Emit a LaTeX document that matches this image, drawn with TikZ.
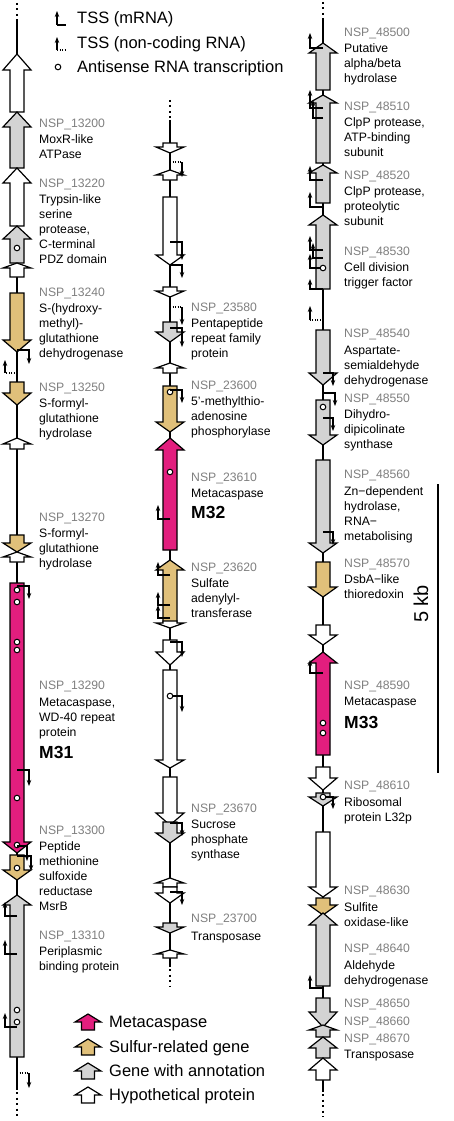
\documentclass[tikz,border=0pt]{standalone}
\usepackage{fontspec}
\setmainfont{Liberation Sans}
\usetikzlibrary{arrows.meta}
\definecolor{magen}{RGB}{226,30,126}
\definecolor{tang}{RGB}{224,192,122}
\definecolor{gfill}{RGB}{211,211,211}
\definecolor{idgray}{RGB}{128,128,128}
\tikzset{
  gene/.style={draw=black,line width=1.2pt,line join=miter},
  axisline/.style={line width=1.5pt},
  dotaxis/.style={line width=1.5pt,dash pattern=on 2pt off 3.5pt},
  tss/.style={line width=1.1pt,-{Stealth[length=6pt,width=4.5pt]}},
  ncdot/.style={line width=1.1pt,dash pattern=on 1pt off 1.5pt},
  circ/.style={draw=black,fill=white,line width=1pt},
  lab/.style={anchor=north west,inner sep=0pt,align=left,font=\fontsize{12.2}{15}\selectfont},
  mlab/.style={anchor=west,inner sep=0pt,font=\fontsize{17.5}{17.5}\selectfont\bfseries},
  legtext/.style={anchor=base west,inner sep=0pt,font=\fontsize{16.5}{16.5}\selectfont},
}
\newcommand{\GeneUp}[5]{\draw[gene,fill=#1] (#2,#3) -- (#2+14,#4) -- (#2+7,#4) -- (#2+7,#5) -- (#2-7,#5) -- (#2-7,#4) -- (#2-14,#4) -- cycle;}
\newcommand{\GeneDn}[5]{\draw[gene,fill=#1] (#2-7,#3) -- (#2+7,#3) -- (#2+7,#4) -- (#2+14,#4) -- (#2,#5) -- (#2-14,#4) -- (#2-7,#4) -- cycle;}
\newcommand{\Tss}[4]{\draw[tss] (#1,#2) -- (#3,#2) -- (#3,#4);}
\newcommand{\NcTss}[4]{\draw[ncdot] (#1,#2) -- (#3,#2); \draw[tss] (#3,#2) -- (#3,#4);}
\newcommand{\Circ}[2]{\draw[circ] (#1,#2) circle[radius=2.8pt];}
\newcommand{\Glab}[5]{\node[lab] (#1) at (#2,#3-4.3) {\textcolor{idgray}{#4}#5};}
\begin{document}
\begin{tikzpicture}[x=1pt,y=-1pt]
\useasboundingbox (0,0) rectangle (454,1121);
\fill[white] (0,0) rectangle (454,1121);

% ---------------- top legend
\draw[tss] (57,25) -- (57,11);
\draw[line width=1.1pt] (57,25) -- (66,25);
\node[legtext] (lg1) at (77,24) {TSS (mRNA)};
\draw[tss] (57,50) -- (57,37);
\draw[ncdot] (57,50) -- (66,50);
\node[legtext] (lg2) at (77,48.5) {TSS (non-coding RNA)};
\Circ{58}{67}
\node[legtext] (lg3) at (77,72.5) {Antisense RNA transcription};

% ---------------- column 1 (x = 17)
\draw[dotaxis] (17,3) -- (17,20);
\draw[axisline] (17,20) -- (17,1090);
\draw[dotaxis] (17,1092) -- (17,1117);
\GeneUp{white}{17}{54}{70}{112}
\GeneUp{gfill}{17}{112}{127}{168}
\GeneUp{white}{17}{168}{183}{226}
\GeneUp{gfill}{17}{226}{239}{263}
\Circ{17}{248}
\GeneUp{white}{17}{263}{268}{277}
\GeneDn{tang}{17}{293}{340}{352}
\Tss{17}{350}{29}{364}
\NcTss{17}{373}{5}{360}
\GeneDn{tang}{17}{382}{393}{405}
\GeneUp{white}{17}{438}{444}{449}
\GeneDn{tang}{17}{535}{543}{552}
\GeneUp{white}{17}{552}{557}{562}
\GeneDn{magen}{17}{583}{842}{853}
\Circ{17}{590}\Circ{17}{602}\Circ{17}{642}\Circ{17}{650}\Circ{17}{798}\Circ{17}{845}
\Tss{17}{586}{29}{599}
\Tss{17}{770}{29}{786}
\GeneDn{tang}{17}{855}{870}{880}
\Circ{17}{868}
\Tss{17}{846}{27}{861}
\Tss{17}{856}{31}{871}
\GeneUp{gfill}{17}{895}{905}{1057}
\Tss{17}{916}{5}{902}
\Tss{17}{954}{5}{940}
\Tss{17}{1027}{5}{1013}
\Circ{17}{1010}\Circ{17}{1022}
\NcTss{17}{1073}{29}{1088}

\Glab{l13200}{39}{123}{NSP\_13200}{\\[1pt]MoxR-like\\ATPase}
\Glab{l13220}{39}{183}{NSP\_13220}{\\[1pt]Trypsin-like\\serine\\protease,\\C-terminal\\PDZ domain}
\Glab{l13240}{39}{292}{NSP\_13240}{\\[1pt]S-(hydroxy-\\methyl)-\\glutathione\\dehydrogenase}
\Glab{l13250}{39}{387}{NSP\_13250}{\\[1pt]S-formyl-\\glutathione\\hydrolase}
\Glab{l13270}{39}{517}{NSP\_13270}{\\[1pt]S-formyl-\\glutathione\\hydrolase}
\Glab{l13290}{39}{685}{NSP\_13290}{\\[2pt]Metacaspase,\\WD-40 repeat\\protein}
\node[mlab] (m31) at (39,752) {M31};
\Glab{l13300}{39}{830}{NSP\_13300}{\\[1pt]Peptide\\methionine\\sulfoxide\\reductase\\MsrB}
\Glab{l13310}{39}{935}{NSP\_13310}{\\[1pt]Periplasmic\\binding protein}

% ---------------- column 2 (x = 170)
\draw[dotaxis] (170,100) -- (170,120);
\draw[axisline] (170,120) -- (170,967);
\draw[dotaxis] (170,969) -- (170,986);
\GeneDn{white}{170}{143}{147}{153}
\NcTss{170}{162}{182}{177}
\GeneUp{white}{170}{170}{175}{180}
\GeneDn{white}{170}{197}{255}{265}
\Tss{170}{242}{182}{260}
\Tss{170}{265}{182}{278}
\GeneDn{white}{170}{287}{291}{297}
\NcTss{170}{307}{182}{325}
\GeneDn{gfill}{170}{322}{332}{342}
\Tss{170}{328}{182}{347}
\GeneUp{white}{170}{363}{368}{373}
\GeneDn{tang}{170}{386}{422}{432}
\Circ{170}{392}
\Tss{170}{390}{182}{403}
\GeneUp{magen}{170}{438}{450}{550}
\Circ{170}{472}
\Tss{170}{519}{158}{505}
\GeneUp{tang}{170}{560}{570}{622}
\Tss{170}{575}{158}{562}
\Tss{170}{605}{158}{592}
\Tss{170}{618}{158}{605}
\GeneDn{white}{170}{621}{623}{628}
\GeneDn{white}{170}{640}{652}{665}
\Tss{170}{642}{182}{657}
\GeneDn{white}{170}{670}{760}{768}
\Circ{170}{696}
\Tss{173}{696}{182}{712}
\GeneDn{white}{170}{777}{813}{825}
\GeneDn{gfill}{170}{822}{833}{843}
\Tss{170}{823}{182}{836}
\GeneUp{white}{170}{878}{883}{887}
\GeneDn{white}{170}{887}{893}{903}
\Tss{170}{892}{182}{905}
\GeneDn{gfill}{170}{923}{927}{933}
\GeneUp{white}{170}{950}{954}{958}

\Glab{l23580}{191}{307}{NSP\_23580}{\\[1pt]Pentapeptide\\repeat family\\protein}
\Glab{l23600}{191}{385}{NSP\_23600}{\\[1pt]5'-methylthio-\\adenosine\\phosphorylase}
\Glab{l23610}{191}{477}{NSP\_23610}{\\[1pt]Metacaspase}
\node[mlab] (m32) at (191,512) {M32};
\Glab{l23620}{191}{567}{NSP\_23620}{\\[1pt]Sulfate\\adenylyl-\\transferase}
\Glab{l23670}{191}{808}{NSP\_23670}{\\[1pt]Sucrose\\phosphate\\synthase}
\Glab{l23700}{191}{918}{NSP\_23700}{\\[3pt]Transposase}

% ---------------- column 3 (x = 323)
\draw[dotaxis] (323,2) -- (323,20);
\draw[axisline] (323,20) -- (323,1092);
\draw[dotaxis] (323,1094) -- (323,1117);
\GeneUp{gfill}{323}{43}{53}{90}
\Tss{323}{48}{310}{33}
\GeneUp{gfill}{323}{95}{103}{163}
\Tss{323}{108}{310}{90}
\Tss{323}{118}{313}{100}
\GeneUp{gfill}{323}{165}{173}{203}
\Tss{323}{180}{310}{166}
\Tss{323}{207}{310}{192}
\GeneUp{gfill}{323}{215}{225}{289}
\Tss{323}{250}{310}{236}
\Tss{323}{258}{313}{243}
\Circ{323}{268}
\Tss{320}{268}{310}{254}
\Tss{323}{289}{310}{279}
\NcTss{323}{320}{310}{306}
\GeneDn{gfill}{323}{330}{373}{385}
\Tss{323}{373}{333}{386}
\GeneDn{gfill}{323}{400}{435}{445}
\Circ{323}{407}
\Tss{323}{393}{335}{406}
\Tss{323}{418}{333}{431}
\GeneDn{gfill}{323}{460}{543}{553}
\Tss{323}{532}{333}{545}
\GeneDn{tang}{323}{562}{587}{597}
\GeneDn{white}{323}{625}{635}{645}
\GeneUp{magen}{323}{652}{663}{755}
\Tss{323}{673}{310}{660}
\Circ{323}{723}\Circ{323}{733}
\GeneDn{white}{323}{767}{778}{790}
\GeneDn{gfill}{323}{793}{797}{806}
\Circ{323}{797}
\Tss{326}{797}{333}{809}
\GeneDn{white}{323}{832}{887}{897}
\GeneDn{tang}{323}{898}{905}{915}
\GeneUp{gfill}{323}{913}{925}{986}
\Tss{323}{988}{310}{975}
\GeneDn{gfill}{323}{998}{1012}{1027}
\GeneUp{gfill}{323}{1025}{1030}{1037}
\GeneUp{gfill}{323}{1037}{1048}{1058}
\GeneUp{white}{323}{1058}{1070}{1080}

\Glab{l48500}{344}{32}{NSP\_48500}{\\[1pt]Putative\\alpha/beta\\hydrolase}
\Glab{l48510}{344}{106}{NSP\_48510}{\\[1pt]ClpP protease,\\ATP-binding\\subunit}
\Glab{l48520}{344}{175}{NSP\_48520}{\\[1pt]ClpP protease,\\proteolytic\\subunit}
\Glab{l48530}{344}{251}{NSP\_48530}{\\[1pt]Cell division\\trigger factor}
\Glab{l48540}{344}{333}{NSP\_48540}{\\[2pt]Aspartate-\\semialdehyde\\dehydrogenase}
\Glab{l48550}{344}{398}{NSP\_48550}{\\[1pt]Dihydro-\\dipicolinate\\synthase}
\Glab{l48560}{344}{474}{NSP\_48560}{\\[2pt]Zn\textminus dependent\\hydrolase,\\RNA\textminus\\metabolising}
\Glab{l48570}{344}{563}{NSP\_48570}{\\[1pt]DsbA\textminus like\\thioredoxin}
\Glab{l48590}{344}{685}{NSP\_48590}{\\[1pt]Metacaspase}
\node[mlab] (m33) at (344,722) {M33};
\Glab{l48610}{344}{785}{NSP\_48610}{\\[2pt]Ribosomal\\protein L32p}
\Glab{l48630}{344}{890}{NSP\_48630}{\\[2pt]Sulfite\\oxidase-like}
\Glab{l48640}{344}{948}{NSP\_48640}{\\[2pt]Aldehyde\\dehydrogenase}
\Glab{l48650}{344}{1003}{NSP\_48650}{}
\Glab{l48660}{344}{1021}{NSP\_48660}{}
\Glab{l48670}{344}{1038}{NSP\_48670}{\\[1pt]Transposase}

% ---------------- scale bar
\draw[line width=1.5pt] (438,484) -- (438,773);
\node[rotate=90,inner sep=0pt,font=\fontsize{20}{20}\selectfont] (kb) at (421,604) {5 kb};

% ---------------- bottom legend
\draw[gene,fill=magen] (88,1014) -- (101,1022) -- (94.5,1022) -- (94.5,1030) -- (81.5,1030) -- (81.5,1022) -- (75,1022) -- cycle;
\node[legtext] (lb1) at (109,1027.8) {Metacaspase};
\draw[gene,fill=tang] (88,1039) -- (101,1047) -- (94.5,1047) -- (94.5,1055) -- (81.5,1055) -- (81.5,1047) -- (75,1047) -- cycle;
\node[legtext] (lb2) at (109,1052.8) {Sulfur-related gene};
\draw[gene,fill=gfill] (88,1063) -- (101,1071) -- (94.5,1071) -- (94.5,1079) -- (81.5,1079) -- (81.5,1071) -- (75,1071) -- cycle;
\node[legtext] (lb3) at (109,1076.8) {Gene with annotation};
\draw[gene,fill=white] (88,1087) -- (101,1095) -- (94.5,1095) -- (94.5,1103) -- (81.5,1103) -- (81.5,1095) -- (75,1095) -- cycle;
\node[legtext] (lb4) at (109,1100.8) {Hypothetical protein};
\end{tikzpicture}
\end{document}
